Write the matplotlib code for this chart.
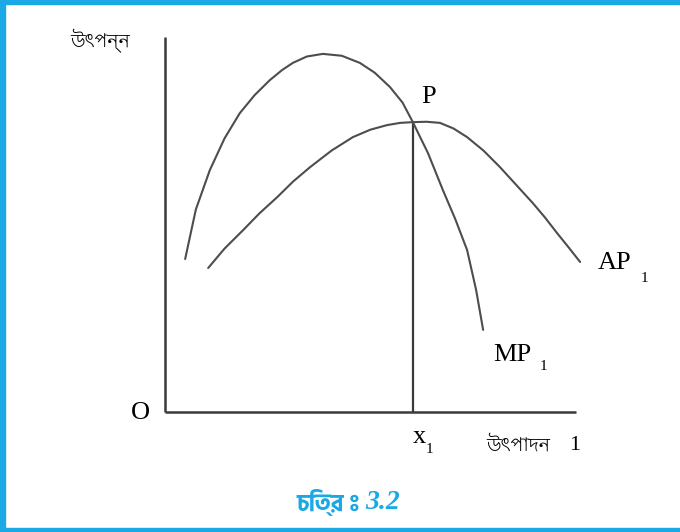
import matplotlib
matplotlib.use("Agg")
import matplotlib.pyplot as plt
from matplotlib.patches import Rectangle

# input (x) / output (y), origin at O
mp_x = [0.49, 0.75, 1.09, 1.45, 1.82, 2.18, 2.55, 2.85, 3.11, 3.45, 3.84, 4.30, 4.74, 5.10, 5.47, 5.78, 6.03, 6.40, 6.76, 7.06, 7.35, 7.57, 7.74]
mp_y = [4.08, 5.40, 6.45, 7.30, 7.97, 8.45, 8.85, 9.12, 9.31, 9.48, 9.55, 9.50, 9.31, 9.05, 8.67, 8.25, 7.73, 6.90, 5.92, 5.15, 4.32, 3.25, 2.19]

ap_x = [1.05, 1.45, 1.90, 2.30, 2.73, 3.12, 3.53, 4.05, 4.57, 5.00, 5.40, 5.72, 6.03, 6.36, 6.69, 7.02, 7.35, 7.75, 8.15, 8.55, 8.95, 9.25, 9.54, 9.82, 10.10]
ap_y = [3.84, 4.36, 4.85, 5.30, 5.73, 6.15, 6.53, 6.97, 7.33, 7.53, 7.65, 7.71, 7.73, 7.74, 7.71, 7.56, 7.33, 6.97, 6.53, 6.05, 5.57, 5.18, 4.77, 4.39, 4.00]

x1_val = 6.03
p_val = 7.73
axis_len_x = 10
axis_len_y = 10

y_label = "উৎপন্ন"
x_label = "উৎপাদন"
x_label_num = "1"
caption_bn = "চিত্র ঃ"
caption_num = "3.2"

LINE = "#4d4d4d"
AXIS = "#3a3a3a"
CYAN = "#1ba9e6"

bn_family = ["Lohit Bengali", "FreeSerif", "Hind Siliguri", "DejaVu Sans"]
bn_bold = ["Hind Siliguri", "Anek Bangla", "FreeSerif", "DejaVu Sans"]
serif = ["Liberation Serif", "DejaVu Serif"]

fig = plt.figure(figsize=(6.8, 5.32), dpi=100)
ax = fig.add_axes([0, 0, 1, 1])
ax.set_xlim(-4.015, 12.53)
ax.set_ylim(-3.2, 10.987)
ax.axis("off")

# axes of the diagram
ax.plot([0, 0], [0, axis_len_y], color=AXIS, lw=1.8, solid_capstyle="butt")
ax.plot([0, axis_len_x], [0, 0], color=AXIS, lw=1.8, solid_capstyle="butt")
ax.plot([x1_val, x1_val], [0, p_val], color=AXIS, lw=1.6, solid_capstyle="butt")

ax.plot(mp_x, mp_y, color=LINE, lw=1.5, solid_joinstyle="round", solid_capstyle="round")
ax.plot(ap_x, ap_y, color=LINE, lw=1.5, solid_joinstyle="round", solid_capstyle="round")

ax.text(6.40, 8.40, "P", family=serif, fontsize=19, ha="center", va="center")
ax.text(-0.61, -0.03, "O", family=serif, fontsize=19, ha="center", va="center")

ax.text(6.02, -0.67, "x", family=serif, fontsize=19, ha="left", va="center")
ax.text(6.33, -1.0, "1", family=serif, fontsize=11, ha="left", va="center")

ax.text(10.54, 3.97, "AP", family=serif, fontsize=19, ha="left", va="center")
ax.text(11.58, 3.57, "1", family=serif, fontsize=11, ha="left", va="center")

ax.text(7.98, 1.51, "MP", family=serif, fontsize=19, ha="left", va="center")
ax.text(9.12, 1.22, "1", family=serif, fontsize=11, ha="left", va="center")

ax.text(-2.31, 9.89, y_label, family=bn_family, fontsize=13.5, ha="left", va="center")
ax.text(7.81, -0.88, x_label, family=bn_family, fontsize=13.5, ha="left", va="center")
ax.text(9.83, -0.90, x_label_num, family=serif, fontsize=16, ha="left", va="center")

ax.text(4.75, -2.40, caption_bn, family=bn_bold, fontsize=17, fontweight="bold",
        color=CYAN, ha="right", va="center")
ax.text(4.87, -2.40, caption_num, family=serif, fontsize=20, fontweight="bold",
        fontstyle="italic", color=CYAN, ha="left", va="center")

# the cyan frame of the textbook box
fig.patches.append(Rectangle((0, 0), 5 / 680, 1, transform=fig.transFigure, color=CYAN, zorder=5))
fig.patches.append(Rectangle((0, 1 - 4 / 532), 1, 4 / 532, transform=fig.transFigure, color=CYAN, zorder=5))
fig.patches.append(Rectangle((0, 0), 1, 4 / 532, transform=fig.transFigure, color=CYAN, zorder=5))

fig.savefig("out.png", dpi=100)
